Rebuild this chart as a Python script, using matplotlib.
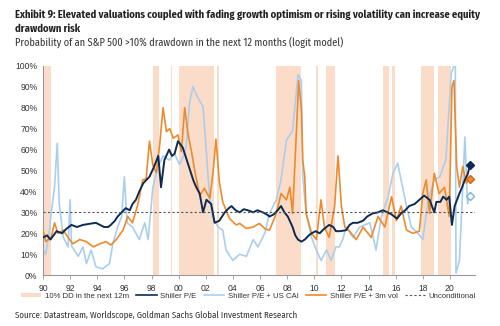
import matplotlib
matplotlib.use("Agg")
import matplotlib.pyplot as plt
from matplotlib.patches import Patch
from matplotlib.lines import Line2D

# ---------------- data ----------------
navy_x = [1990.0, 1990.3, 1990.55, 1991.0, 1991.4, 1991.7, 1992.1, 1992.5, 1992.95, 1993.4, 1993.9, 1994.2,
          1994.5, 1994.8, 1995.0, 1995.3, 1995.5, 1995.8, 1996.1, 1996.4, 1996.6, 1996.85, 1997.1, 1997.4,
          1997.7, 1997.85, 1998.2, 1998.5, 1998.7, 1998.95, 1999.3, 1999.5, 1999.7, 1999.95, 2000.3, 2000.55,
          2000.9, 2001.1, 2001.3, 2001.55, 2001.8, 2002.05, 2002.4, 2002.65, 2003.0, 2003.2, 2003.4, 2003.7,
          2003.9, 2004.2, 2004.5, 2004.8, 2005.1, 2005.5, 2005.8, 2006.2, 2006.5, 2006.7, 2007.0, 2007.3,
          2007.55, 2007.8, 2008.05, 2008.4, 2008.6, 2008.8, 2009.05, 2009.3, 2009.6, 2009.8, 2010.1, 2010.4,
          2010.7, 2011.1, 2011.4, 2011.6, 2011.9, 2012.35, 2012.6, 2012.85, 2013.2, 2013.6, 2013.9, 2014.3,
          2014.7, 2015.05, 2015.4, 2015.7, 2015.9, 2016.1, 2016.4, 2016.7, 2017.0, 2017.4, 2017.75, 2018.1,
          2018.5, 2018.85, 2019.0, 2019.3, 2019.5, 2019.75, 2019.95, 2020.15, 2020.35, 2020.7, 2020.9, 2021.1,
          2021.3, 2021.45]
navy_y = [18, 19, 17, 21, 20, 22, 24, 23, 24, 24.5, 25, 24,
          23, 23, 24, 26, 28, 30, 32, 31, 34, 36, 40, 44,
          46, 47, 52, 57, 42, 55, 60, 57, 58, 64, 61, 56,
          49, 45, 42, 39, 30, 36, 34, 25, 26, 28, 30, 32,
          33, 31, 30, 31.5, 31, 30, 31, 30, 29, 28, 29, 31,
          33, 30, 28, 23, 19, 17, 16, 17, 19, 20, 21, 20,
          22, 24, 23, 21, 21, 21.5, 24, 25, 25, 26, 28, 29.5,
          30, 31, 30, 29, 28, 27, 29.5, 31, 33, 34, 36, 38,
          36, 30, 35, 35, 37.5, 36, 37.5, 24, 33, 39, 42, 45.5,
          48, 52]

cai_x = [1990.0, 1990.2, 1990.45, 1990.6, 1990.85, 1991.05, 1991.2, 1991.5, 1991.85, 1992.0, 1992.1, 1992.6,
         1992.95, 1993.2, 1993.55, 1993.9, 1994.4, 1994.9, 1995.15, 1995.5, 1995.8, 1996.0, 1996.2, 1996.6,
         1997.1, 1997.5, 1997.75, 1998.1, 1998.5, 1998.85, 1999.3, 1999.7, 2000.05, 2000.3, 2000.55, 2000.8,
         2001.05, 2001.4, 2001.8, 2002.05, 2002.3, 2002.5, 2002.9, 2003.25, 2003.5, 2004.0, 2004.5, 2005.0,
         2005.5, 2005.85, 2006.35, 2006.7, 2007.2, 2007.55, 2007.95, 2008.4, 2008.8, 2009.05, 2009.15, 2009.4,
         2009.8, 2010.15, 2010.5, 2010.9, 2011.25, 2011.6, 2011.85, 2012.1, 2012.35, 2012.85, 2013.35, 2014.1,
         2014.55, 2014.95, 2015.45, 2015.8, 2016.15, 2016.4, 2016.8, 2017.15, 2017.65, 2018.0, 2018.4, 2018.85,
         2019.25, 2019.7, 2020.1, 2020.3, 2020.4, 2020.45, 2020.7, 2020.95, 2021.1, 2021.3, 2021.45]
cai_y = [12, 10, 20, 29.5, 42, 63, 34, 18, 13.5, 36, 14, 9,
         13.5, 5.5, 12, 4, 3, 5.5, 15, 23, 28, 47, 25, 23,
         17, 25, 17, 42, 52, 57, 55, 58, 53, 56, 61, 82,
         90, 85, 80.5, 58, 36, 28, 23, 21.5, 12, 7, 10, 9,
         17, 13.5, 20, 29.5, 36, 45.5, 64.5, 69, 95.7, 93, 47, 29.5,
         18, 12, 7, 12, 7, 13.5, 13.5, 17, 23, 18, 23, 25,
         12, 28, 37.5, 48.7, 53.5, 45.5, 33, 23, 20, 17, 36, 45.5,
         47, 55, 96.5, 100, 100, 1, 7, 42, 66, 34, 38]

vol_x = [1990.0, 1990.2, 1990.6, 1990.85, 1991.1, 1991.5, 1991.85, 1992.2, 1992.7, 1993.2, 1993.7, 1994.2,
         1994.65, 1995.0, 1995.4, 1995.9, 1996.25, 1996.6, 1997.0, 1997.35, 1997.6, 1997.85, 1998.1, 1998.35,
         1998.6, 1998.85, 1999.1, 1999.35, 1999.6, 1999.95, 2000.2, 2000.45, 2000.7, 2000.95, 2001.2, 2001.55,
         2001.9, 2002.3, 2002.55, 2002.75, 2003.0, 2003.25, 2003.75, 2004.25, 2004.5, 2005.0, 2005.5, 2005.95,
         2006.4, 2006.7, 2007.2, 2007.55, 2007.95, 2008.2, 2008.4, 2008.7, 2008.85, 2009.05, 2009.15, 2009.3,
         2009.4, 2009.8, 2010.15, 2010.5, 2010.75, 2011.1, 2011.5, 2011.75, 2012.0, 2012.25, 2012.6, 2013.1,
         2013.6, 2014.2, 2014.7, 2015.2, 2015.7, 2016.05, 2016.4, 2016.8, 2017.25, 2017.75, 2018.0, 2018.25,
         2018.5, 2018.85, 2019.2, 2019.6, 2019.95, 2020.15, 2020.3, 2020.5, 2020.7, 2020.95, 2021.2, 2021.45]
vol_y = [21.5, 16, 18, 25, 20, 21.5, 18, 15, 17, 16, 13.5, 15,
         16, 14.4, 17, 21.5, 28, 25, 34, 45.5, 46, 64, 52.6, 49,
         62, 80, 68.6, 70, 65.4, 67, 59, 80, 67, 59, 49.4, 38,
         41.5, 36.7, 50, 65, 44.6, 35, 27, 24, 24.7, 22.3, 23, 24.7,
         22, 21.5, 29.5, 39, 36, 42, 29.5, 71, 93, 79, 55, 47,
         29.5, 20, 17, 36, 23, 18, 33, 57, 33, 23, 21, 17,
         23, 18, 28, 23, 37.5, 26, 33, 21.5, 20, 21, 39, 45.5,
         29.5, 48.7, 39, 42, 28, 90, 93, 52, 42, 52, 44, 46]

dd_start = [1990.1, 1998.1, 1999.43, 2000.0, 2002.85, 2007.2, 2010.15, 2010.9, 2015.05, 2015.75, 2017.9, 2019.1]
dd_end = [1990.6, 1998.55, 1999.5, 2002.6, 2003.0, 2009.05, 2010.3, 2011.5, 2015.5, 2015.92, 2018.85, 2020.1]

latest_x = 2021.5
latest_navy = 52.5
latest_vol = 46
latest_cai = 38
unconditional = 30

xtick_years = list(range(1990, 2021, 2))
xtick_labels = ["90", "92", "94", "96", "98", "00", "02", "04", "06", "08", "10", "12", "14", "16", "18", "20"]

# ---------------- style ----------------
NAVY = "#0d2b52"
LBLUE = "#a9cfee"
ORANGE = "#ef8a2c"
SHADE = "#fbdcc9"
TXT = "#333333"

title_font = ["Fira Sans Condensed", "Roboto Condensed", "DejaVu Sans"]
body_font = ["Liberation Sans", "DejaVu Sans"]

fig = plt.figure(figsize=(5.0, 3.26), dpi=100)
ax = fig.add_axes([0.086, 0.156, 0.864, 0.642])

for s, e in zip(dd_start, dd_end):
    ax.axvspan(s, e, color=SHADE, lw=0, zorder=0)

ax.plot(cai_x, cai_y, color=LBLUE, lw=1.2, zorder=2)
ax.plot(vol_x, vol_y, color=ORANGE, lw=1.2, zorder=3)
ax.plot(navy_x, navy_y, color=NAVY, lw=1.4, zorder=4)
ax.axhline(unconditional, color="#555555", lw=0.8, ls=(0, (2, 2)), zorder=5)

ax.plot([latest_x], [latest_navy], marker="D", ms=4, color=NAVY, zorder=6, clip_on=False)
ax.plot([latest_x], [latest_vol], marker="D", ms=4, mfc=ORANGE, mec="#c86a1a", zorder=6, clip_on=False)
ax.plot([latest_x], [latest_cai], marker="D", ms=4, mfc="white", mec="#7fb0dc", mew=1, zorder=6, clip_on=False)

ax.set_xlim(1990, 2021.85)
ax.set_ylim(0, 100)
ax.set_yticks(range(0, 101, 10))
ax.set_yticklabels([f"{v}%" for v in range(0, 101, 10)])
ax.set_xticks(xtick_years)
ax.set_xticklabels(xtick_labels)
for sp in ["top", "right"]:
    ax.spines[sp].set_visible(False)
for sp in ["left", "bottom"]:
    ax.spines[sp].set_color("#999999")
    ax.spines[sp].set_linewidth(0.8)
ax.tick_params(axis="both", colors="#999999", labelcolor=TXT, labelsize=6.2, length=3, width=0.6)
ax.tick_params(axis="y", length=0, pad=4)
for lbl in ax.get_xticklabels() + ax.get_yticklabels():
    lbl.set_family(body_font)

# titles
fig.text(0.03, 0.955, "Exhibit 9: Elevated valuations coupled with fading growth optimism or rising volatility can increase equity",
         fontsize=7.6, fontweight="bold", color="#222222", family=title_font, va="center")
fig.text(0.03, 0.912, "drawdown risk", fontsize=7.6, fontweight="bold", color="#222222", family=title_font, va="center")
fig.text(0.03, 0.870, "Probability of an S&P 500 >10% drawdown in the next 12 months (logit model)",
         fontsize=7.4, color="#333333", family=title_font, va="center")
fig.text(0.03, 0.035, "Source: Datastream, Worldscope, Goldman Sachs Global Investment Research",
         fontsize=6.4, color="#333333", family=title_font, va="center")

handles = [Patch(facecolor=SHADE, edgecolor="none"),
           Line2D([], [], color=NAVY, lw=1.2),
           Line2D([], [], color=LBLUE, lw=1.2),
           Line2D([], [], color=ORANGE, lw=1.2),
           Line2D([], [], color="#555555", lw=0.8, ls=(0, (2, 2)))]
labels = ["10% DD in the next 12m", "Shiller P/E", "Shiller P/E + US CAI", "Shiller P/E + 3m vol", "Unconditional"]
leg = fig.legend(handles, labels, loc="center", bbox_to_anchor=(0.497, 0.092), ncol=5, frameon=False,
                 prop={"family": body_font, "size": 5.6}, handlelength=2.6, handleheight=0.5,
                 columnspacing=0.9, handletextpad=0.5)
for t in leg.get_texts():
    t.set_color(TXT)

fig.savefig("out.png", dpi=100)
